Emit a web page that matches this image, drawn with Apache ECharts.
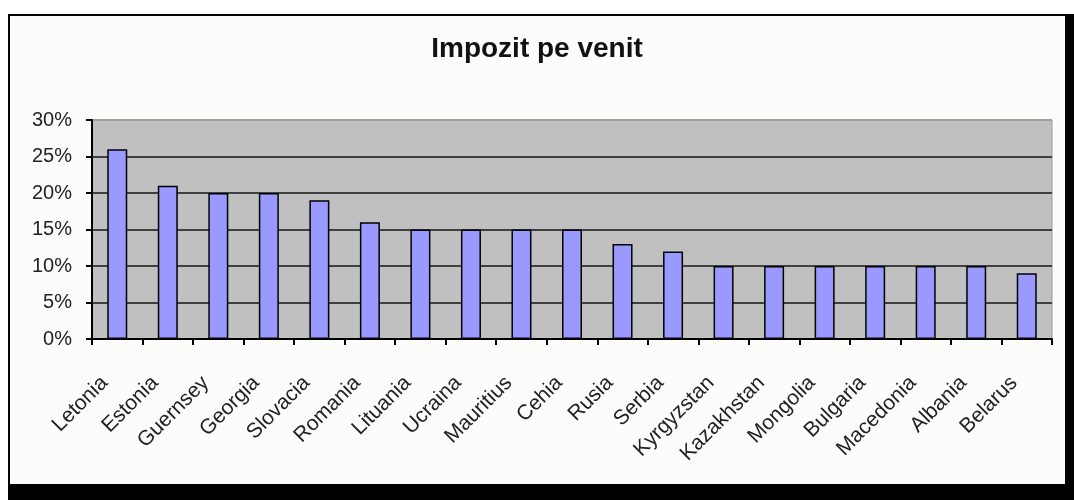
<!DOCTYPE html>
<html>
<head>
<meta charset="utf-8">
<script src="https://cdn.jsdelivr.net/npm/echarts@6/dist/echarts.min.js"></script>
<style>
html,body{margin:0;padding:0;background:#ffffff;}
#chart{width:1074px;height:500px;}
</style>
</head>
<body>
<div id="chart"></div>
<script>
const titleText = 'Impozit pe venit';
const categories = ['Letonia','Estonia','Guernsey','Georgia','Slovacia','Romania','Lituania','Ucraina','Mauritius','Cehia','Rusia','Serbia','Kyrgyzstan','Kazakhstan','Mongolia','Bulgaria','Macedonia','Albania','Belarus'];
const values = [26,21,20,20,19,16,15,15,15,15,13,12,10,10,10,10,10,10,9];
const yTicks = [0,5,10,15,20,25,30];

const chart = echarts.init(document.getElementById('chart'), null, {renderer:'canvas'});
const font = 'Liberation Sans, Arial, sans-serif';
chart.setOption({
  animation:false,
  backgroundColor:'#ffffff',
  graphic:[
    {type:'rect', z:-20, silent:true, shape:{x:8,y:14,width:1066,height:486}, style:{fill:'#000000'}},
    {type:'rect', z:-19, silent:true, shape:{x:10,y:16,width:1055,height:468}, style:{fill:'#FCFDFA'}}
  ],
  title:{
    text:titleText, left:'center', top:30,
    textStyle:{fontFamily:font, fontSize:28, fontWeight:'bold', color:'#111111'}
  },
  grid:{
    left:92, right:22, top:120, bottom:161,
    show:true, backgroundColor:'#C0C0C0', borderColor:'#9A9A9A', borderWidth:1
  },
  xAxis:{
    type:'category', data:categories,
    axisLine:{show:true, lineStyle:{color:'#000000', width:2}},
    axisTick:{show:true, length:6, lineStyle:{color:'#000000', width:2}},
    axisLabel:{interval:0, rotate:45, margin:28, padding:[0,18,0,0], fontFamily:font, fontSize:21, color:'#222222'}
  },
  yAxis:{
    type:'value', min:yTicks[0], max:yTicks[yTicks.length-1], interval:yTicks[1]-yTicks[0],
    axisLine:{show:true, lineStyle:{color:'#000000', width:2}},
    axisTick:{show:true, length:6, lineStyle:{color:'#000000', width:2}},
    axisLabel:{formatter:'{value}%', margin:20, fontFamily:font, fontSize:20, color:'#222222'},
    splitLine:{show:true, lineStyle:{color:['#404040','#404040','#404040','#404040','#404040','#404040','#A0A0A0'], width:2}}
  },
  series:[{
    type:'bar', data:values, barWidth:20,
    itemStyle:{color:'#9999FF', borderColor:'#000000', borderWidth:1.5}
  }]
});
</script>
</body>
</html>
